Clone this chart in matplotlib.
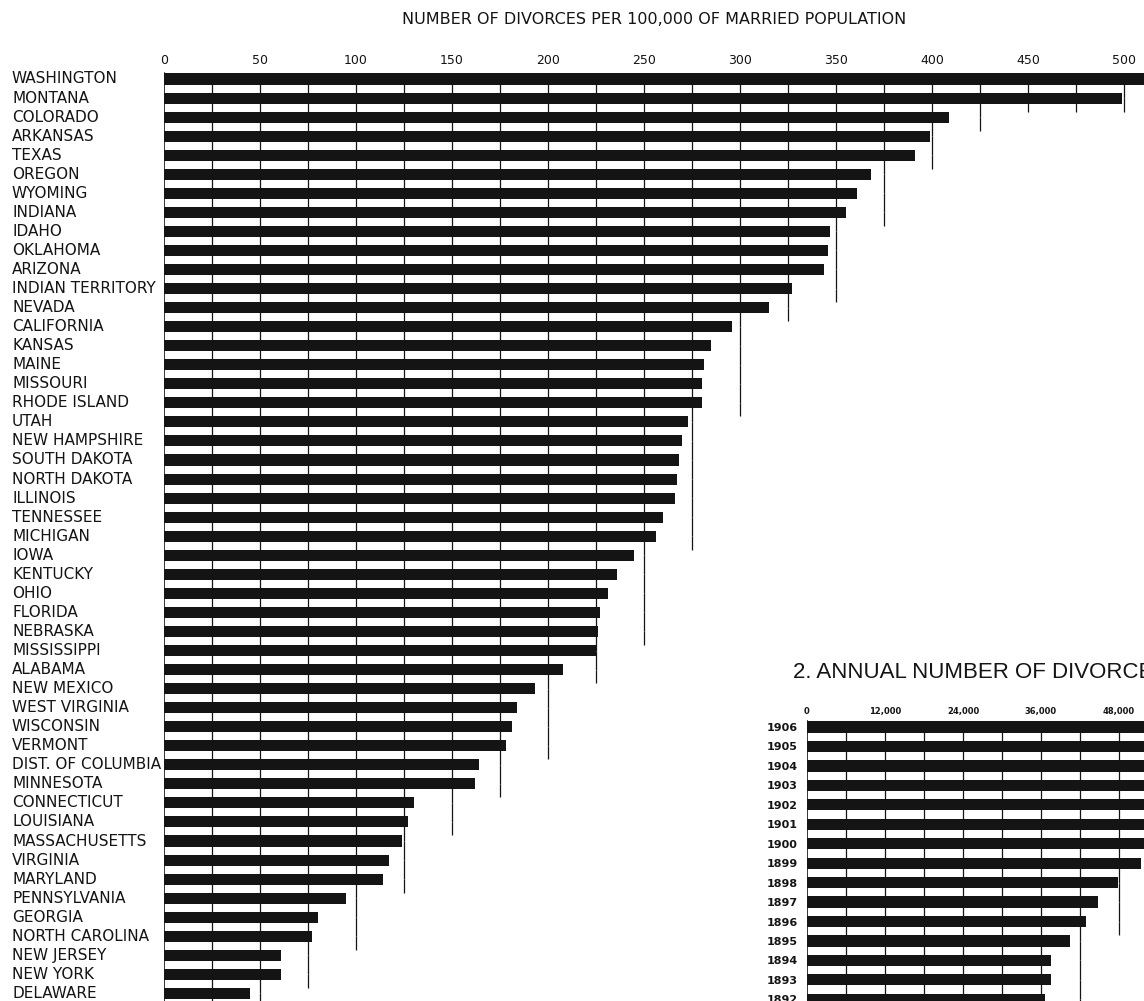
import math
import matplotlib
matplotlib.use("Agg")
import matplotlib.pyplot as plt
import matplotlib.transforms as mtransforms

# divorces per 100,000 of married population, by state
states = ["WASHINGTON", "MONTANA", "COLORADO", "ARKANSAS", "TEXAS", "OREGON",
          "WYOMING", "INDIANA", "IDAHO", "OKLAHOMA", "ARIZONA", "INDIAN TERRITORY",
          "NEVADA", "CALIFORNIA", "KANSAS", "MAINE", "MISSOURI", "RHODE ISLAND",
          "UTAH", "NEW HAMPSHIRE", "SOUTH DAKOTA", "NORTH DAKOTA", "ILLINOIS",
          "TENNESSEE", "MICHIGAN", "IOWA", "KENTUCKY", "OHIO", "FLORIDA",
          "NEBRASKA", "MISSISSIPPI", "ALABAMA", "NEW MEXICO", "WEST VIRGINIA",
          "WISCONSIN", "VERMONT", "DIST. OF COLUMBIA", "MINNESOTA", "CONNECTICUT",
          "LOUISIANA", "MASSACHUSETTS", "VIRGINIA", "MARYLAND", "PENNSYLVANIA",
          "GEORGIA", "NORTH CAROLINA", "NEW JERSEY", "NEW YORK", "DELAWARE"]
rates = [513, 499, 409, 399, 391, 368, 361, 355, 347, 346, 344, 327,
         315, 296, 285, 281, 280, 280, 273, 270, 268, 267, 266, 260,
         256, 245, 236, 231, 227, 226, 225, 208, 193, 184, 181, 178,
         164, 162, 130, 127, 124, 117, 114, 95, 80, 77, 61, 61, 45]
rate_ticks = [0, 50, 100, 150, 200, 250, 300, 350, 400, 450, 500]

# annual number of divorces (visible part of chart 2)
years = ["1906", "1905", "1904", "1903", "1902", "1901", "1900", "1899",
         "1898", "1897", "1896", "1895", "1894", "1893", "1892"]
divorces = [72062, 67976, 66199, 64925, 61480, 60984, 55751, 51437,
            47849, 44699, 42937, 40387, 37568, 37468, 36579]
count_ticks = [0, 12000, 24000, 36000, 48000]
count_tick_labels = ["0", "12,000", "24,000", "36,000", "48,000"]

W, H = 1144, 1001
ink = "#141414"
plt.rcParams["font.family"] = ["DejaVu Sans"]
fig = plt.figure(figsize=(W / 100, H / 100), dpi=100)


def px_axes(left, top, right, bottom):
    return fig.add_axes([left / W, 1 - bottom / H, (right - left) / W, (bottom - top) / H])


def draw_grid(ax, vals, step, bar_h, ybottom):
    # the gap under each bar carries the cell lines up to the first line past that bar
    n = len(vals)
    reach = [math.ceil(v / step) * step for v in vals]
    for i in range(n):
        g = step
        while g <= reach[i]:
            if i == n - 1:
                y1 = ybottom
            elif g <= reach[i + 1]:
                y1 = i + 1
            else:
                y1 = i + 1 - bar_h / 2
            ax.plot([g, g], [i, y1], color=ink, lw=0.9, zorder=1,
                    solid_capstyle="butt")
            g += step


# ---- chart 1 ----
row = 19.05
bar_h = 0.58
ax = px_axes(164, 79 - row / 2, W, H)
ybot = -0.5 + (H - (79 - row / 2)) / row
ax.set_xlim(0, (W - 164) / 1.92)
ax.set_ylim(ybot, -0.5)
ax.set_facecolor("none")
for s in ax.spines.values():
    s.set_visible(False)

ax.barh(range(len(states)), rates, height=bar_h, color=ink, zorder=2)
draw_grid(ax, rates, 25, bar_h, ybot)
ax.plot([0, 0], [-bar_h / 2, ybot], color=ink, lw=1.2, zorder=3)

ax.xaxis.tick_top()
ax.set_xticks(rate_ticks)
ax.set_xticklabels([str(t) for t in rate_ticks], fontsize=9, color=ink)
ax.tick_params(axis="x", length=0, pad=1.5)
ax.set_yticks([])

trans = mtransforms.blended_transform_factory(fig.transFigure, ax.transData)
for i, name in enumerate(states):
    ax.text(12 / W, i, name, transform=trans, ha="left", va="center",
            fontsize=11, color=ink)

fig.text(654 / W, 1 - 19 / H, "NUMBER OF DIVORCES PER 100,000 OF MARRIED POPULATION",
         ha="center", va="center", fontsize=11.5, color=ink)

# ---- chart 2 ----
row2 = 19.45
ax2 = px_axes(807, 727 - row2 / 2, W, H)
ybot2 = -0.5 + (H - (727 - row2 / 2)) / row2
ax2.set_xlim(0, (W - 807) / 0.0065)
ax2.set_ylim(ybot2, -0.5)
ax2.set_facecolor("none")
for s in ax2.spines.values():
    s.set_visible(False)

ax2.barh(range(len(years)), divorces, height=bar_h, color=ink, zorder=2)
draw_grid(ax2, divorces, 6000, bar_h, ybot2)
ax2.plot([0, 0], [-bar_h / 2, ybot2], color=ink, lw=1.2, zorder=3)

ax2.xaxis.tick_top()
ax2.set_xticks(count_ticks)
ax2.set_xticklabels(count_tick_labels, fontsize=6, fontweight="bold", color=ink)
ax2.tick_params(axis="x", length=0, pad=1)
ax2.set_yticks(range(len(years)))
ax2.set_yticklabels(years, fontsize=8, fontweight="bold", color=ink)
ax2.tick_params(axis="y", length=0, pad=6.5)

fig.text(793 / W, 1 - 672 / H, "2. ANNUAL NUMBER OF DIVORCES",
         ha="left", va="center", fontsize=16, color=ink,
         family=["Liberation Sans", "DejaVu Sans"])

fig.savefig("out.png", dpi=100, facecolor="white")
